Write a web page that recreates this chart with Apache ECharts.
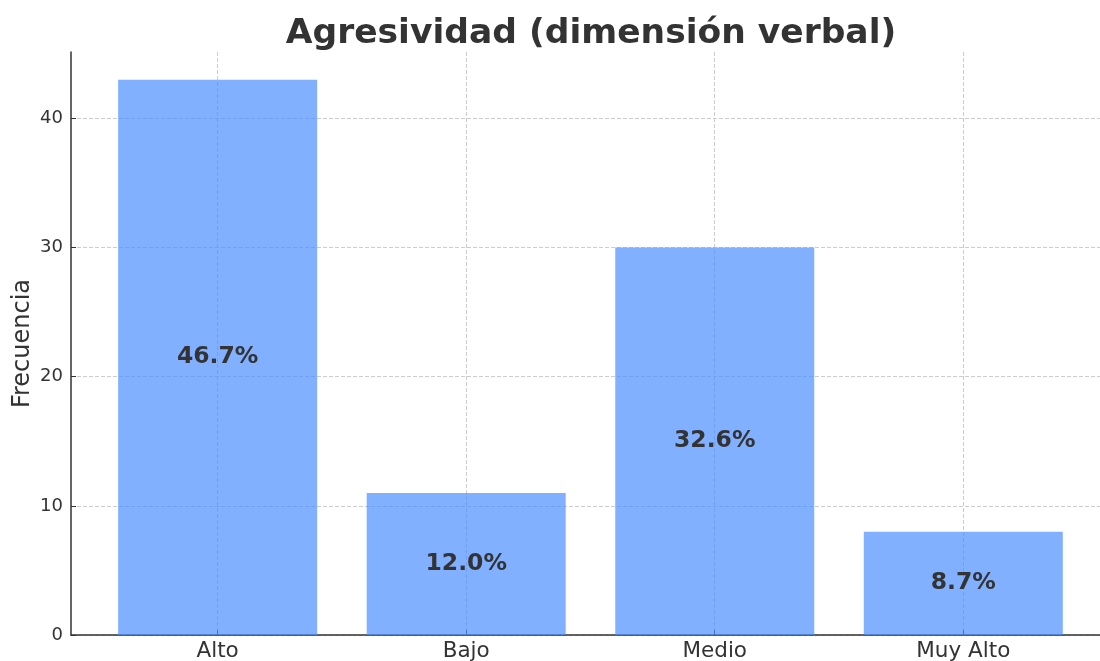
<!DOCTYPE html>
<html>
<head>
<meta charset="utf-8">
<script src="https://cdn.jsdelivr.net/npm/echarts@6/dist/echarts.min.js"></script>
<style>
  html, body { margin: 0; padding: 0; background: #fff; }
  #chart { width: 1100px; height: 661px; }
</style>
</head>
<body>
<div id="chart"></div>
<script>
const categories = ['Alto', 'Bajo', 'Medio', 'Muy Alto'];
const frecuencias = [43, 11, 30, 8];
const yTicks = [0, 10, 20, 30, 40];

const total = frecuencias.reduce((a, b) => a + b, 0);
const font = 'DejaVu Sans';

const chart = echarts.init(document.getElementById('chart'));
chart.setOption({
  animation: false,
  textStyle: { fontFamily: font },
  title: {
    text: 'Agresividad (dimensión verbal)',
    left: 586,
    textAlign: 'center',
    top: 12,
    textStyle: { fontFamily: font, fontSize: 34.5, fontWeight: 'bold', color: '#333' }
  },
  grid: { left: 71, right: 0, top: 52, bottom: 26, containLabel: false, outerBoundsMode: 'none' },
  xAxis: {
    type: 'value',
    min: -0.59,
    max: 3.55,
    axisLine: { show: true, onZero: false, lineStyle: { color: '#333', width: 1.5 } },
    axisTick: { show: true, inside: true, length: 5, customValues: [0, 1, 2, 3], lineStyle: { color: '#333' } },
    axisLabel: {
      customValues: [0, 1, 2, 3],
      formatter: v => categories[v] || '',
      fontSize: 21.5, color: '#333', margin: 5
    },
    splitLine: { show: true, lineStyle: { color: '#ccc', type: 'dashed', width: 1 } }
  },
  yAxis: {
    type: 'value',
    min: 0,
    max: 45.15,
    interval: 10,
    name: 'Frecuencia',
    nameLocation: 'middle',
    nameGap: 36,
    nameMoveOverlap: false,
    nameTextStyle: { fontSize: 24, color: '#333' },
    axisLine: { show: true, onZero: false, lineStyle: { color: '#333', width: 1.5 } },
    axisTick: { show: true, inside: true, length: 5, customValues: yTicks, lineStyle: { color: '#333' } },
    axisLabel: {
      customValues: yTicks,
      fontSize: 18, color: '#333', margin: 8
    },
    splitLine: { show: true, lineStyle: { color: '#ccc', type: 'dashed', width: 1 } }
  },
  series: [{
    type: 'bar',
    data: frecuencias.map((v, i) => [i, v]),
    barWidth: 199,
    itemStyle: { color: 'rgba(74,142,255,0.7)' },
    label: {
      show: true,
      position: 'inside',
      formatter: p => (p.value[1] / total * 100).toFixed(1) + '%',
      fontSize: 23.5,
      fontWeight: 'bold',
      color: '#333'
    }
  }]
});
</script>
</body>
</html>
